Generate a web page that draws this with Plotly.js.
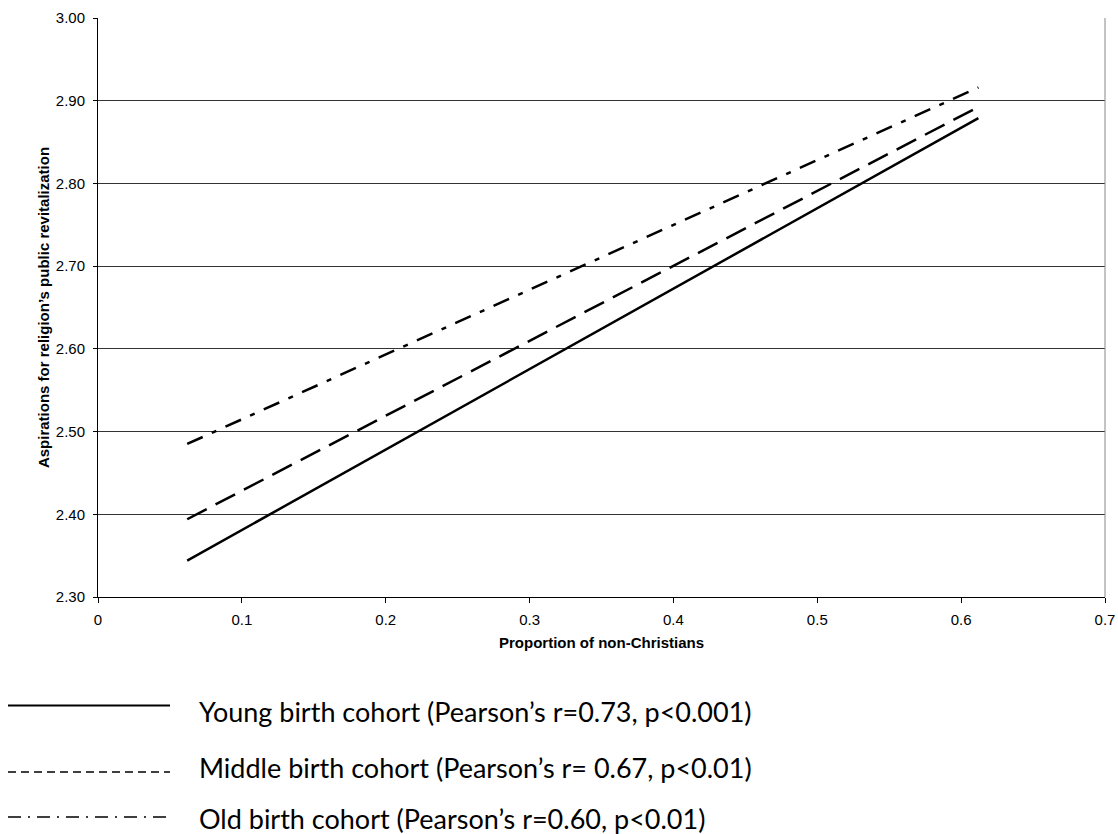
<!DOCTYPE html>
<html>
<head>
<meta charset="utf-8">
<script src="https://cdn.plot.ly/plotly-3.0.1.min.js"></script>
<style>html,body{margin:0;padding:0;background:#fff;} #chart{width:1118px;height:834px;}</style>
</head>
<body>
<div id="chart"></div>
<script>
// Data
const xEnds = [0.062, 0.612];
const young = [2.344, 2.879];
const middle = [2.394, 2.8925];
const old = [2.485, 2.916];
const seriesNames = [
  "Young birth cohort (Pearson\u2019s r=0.73, p<0.001)",
  "Middle birth cohort (Pearson\u2019s r= 0.67, p<0.01)",
  "Old birth cohort (Pearson\u2019s r=0.60, p<0.01)"
];
const yTicks = [2.30, 2.40, 2.50, 2.60, 2.70, 2.80, 2.90, 3.00];
const xTicks = [0, 0.1, 0.2, 0.3, 0.4, 0.5, 0.6, 0.7];

const W = 1118, H = 834;
const M = {l: 98, r: 13, t: 18, b: 237};
const pw = W - M.l - M.r, ph = H - M.t - M.b;
const px = x => (x - M.l) / pw;
const py = y => (H - M.b - y) / ph;

const dashes = ['solid', '22px,10px', '17px,10px,5px,10px'];
const legDashes = ['solid', '8px,5px', '13px,7px,2px,7px'];
const data = [young, middle, old].map((ys, i) => ({
  type: 'scatter', mode: 'lines', x: xEnds, y: ys, name: seriesNames[i],
  line: {color: '#000', width: 2.5, dash: dashes[i]}, showlegend: false, hoverinfo: 'skip'
}));

const legRows = [705.5, 772, 817];
const textRows = [711, 767, 818];
const shapes = [];
const annotations = [];
legRows.forEach((yy, i) => {
  shapes.push({type: 'line', xref: 'paper', yref: 'paper', x0: px(8), x1: px(170), y0: py(yy), y1: py(yy),
    line: {color: '#000', width: i === 0 ? 2 : 1.5, dash: legDashes[i]}});
  annotations.push({xref: 'paper', yref: 'paper', x: px(197), y: py(textRows[i]), xanchor: 'left', yanchor: 'middle',
    text: seriesNames[i], showarrow: false, font: {family: 'Lato, "Open Sans", sans-serif', size: 27, color: '#000'}});
});

const layout = {
  width: W, height: H, margin: M,
  paper_bgcolor: '#fff', plot_bgcolor: '#fff',
  showlegend: false,
  font: {family: 'Arial, "Liberation Sans", sans-serif', size: 15, color: '#000'},
  xaxis: {
    range: [0, 0.7], tickvals: xTicks, ticktext: xTicks.map(v => v === 0 ? '0' : v.toFixed(1)),
    ticks: 'outside', ticklen: 5, tickcolor: '#000', showgrid: false, zeroline: false,
    showline: true, linecolor: '#000', linewidth: 1, mirror: false, ticklabelstandoff: 4,
    title: {text: '<b>Proportion of non-Christians</b>', font: {size: 15}, standoff: 10},
    tickfont: {size: 15}
  },
  yaxis: {
    range: [2.30, 3.00], tickvals: yTicks, ticktext: yTicks.map(v => v.toFixed(2)),
    ticks: 'outside', ticklen: 4, tickcolor: '#000', showgrid: true, gridcolor: '#333', gridwidth: 1,
    zeroline: false, showline: true, linecolor: '#000', linewidth: 1, ticklabelstandoff: 5,
    title: {text: '<b>Aspirations for religion\u2019s public revitalization</b>', font: {size: 15}, standoff: 2},
    tickfont: {size: 15}
  },
  shapes: shapes.concat([
    {type: 'line', xref: 'paper', yref: 'paper', x0: 1, x1: 1, y0: 0, y1: 1, line: {color: '#888', width: 1}}
  ]),
  annotations: annotations
};

Plotly.newPlot('chart', data, layout, {displayModeBar: false, staticPlot: true});
</script>
</body>
</html>
